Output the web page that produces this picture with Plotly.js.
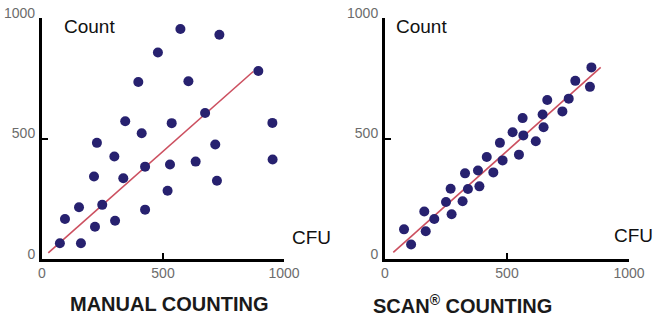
<!DOCTYPE html>
<html>
<head>
<meta charset="utf-8">
<script src="https://cdn.plot.ly/plotly-3.0.1.min.js"></script>
<style>
html,body{margin:0;padding:0;background:#fff;}
#chart{width:658px;height:317px;}
</style>
</head>
<body>
<div id="chart"></div>
<script>
// Manual counting: CFU (x) vs Count (y)
const manualCFU   = [74, 95, 153, 161, 219, 215, 227, 249, 302, 299, 336, 344, 398, 412, 426, 426, 479, 519, 529, 536, 572, 605, 635, 674, 716, 723, 733, 894, 952, 953];
const manualCount = [64, 165, 214, 64, 133, 342, 482, 224, 158, 425, 335, 572, 735, 522, 383, 204, 858, 283, 392, 564, 956, 738, 404, 606, 475, 324, 932, 781, 565, 413];
const manualFitX = [26, 873];
const manualFitY = [24, 779];

// SCAN counting: CFU (x) vs Count (y)
const scanCFU   = [78, 107, 161, 167, 202, 250, 269, 273, 318, 328, 340, 381, 387, 417, 444, 471, 482, 523, 549, 564, 567, 618, 646, 650, 665, 727, 753, 780, 840, 846];
const scanCount = [122, 59, 196, 114, 165, 236, 291, 185, 239, 355, 290, 367, 301, 423, 359, 482, 409, 526, 433, 585, 513, 489, 600, 547, 660, 613, 666, 740, 715, 796];
const scanFitX = [34, 884];
const scanFitY = [26, 796];

const tickVals = [0, 500, 1000];
const tickText = ['0', '500', '1000'];
const panelTitles = ['MANUAL COUNTING', 'SCAN<sup>®</sup> COUNTING'];
const yAxisLabel = 'Count';
const xAxisLabel = 'CFU';

const dotColor = '#27216f';
const lineColor = '#cc5060';

function fit(x, y, xa, ya) {
  return {x: x, y: y, xaxis: xa, yaxis: ya, mode: 'lines', type: 'scatter',
    line: {color: lineColor, width: 1.6}, hoverinfo: 'skip', cliponaxis: false};
}
function dots(x, y, xa, ya) {
  return {x: x, y: y, xaxis: xa, yaxis: ya, mode: 'markers', type: 'scatter',
    marker: {color: dotColor, size: 10}, cliponaxis: false};
}

const data = [
  fit(manualFitX, manualFitY, 'x', 'y'),
  dots(manualCFU, manualCount, 'x', 'y'),
  fit(scanFitX, scanFitY, 'x2', 'y2'),
  dots(scanCFU, scanCount, 'x2', 'y2')
];

const tickFont = {family: 'Liberation Sans, Arial, sans-serif', size: 14, color: '#6c6c6c'};
function xax(domain, anchor) {
  return {domain: domain, anchor: anchor, range: [0, 1000], showgrid: false, zeroline: false,
    showline: true, linecolor: '#000', linewidth: 3, ticks: 'inside', ticklen: 6, tickwidth: 2,
    tickcolor: '#000', tickvals: tickVals, ticktext: tickText, tickfont: tickFont, fixedrange: true,
    layer: 'above traces'};
}
function yax(domain, anchor) {
  return {domain: domain, anchor: anchor, range: [0, 1000], showgrid: false, zeroline: false,
    showline: true, linecolor: '#000', linewidth: 3, ticks: 'inside', ticklen: 6, tickwidth: 2,
    tickcolor: '#000', tickvals: tickVals, ticktext: tickText, tickfont: tickFont, fixedrange: true,
    ticklabelshift: -5, ticklabelstandoff: 1, layer: 'above traces'};
}

const yDom = [0.184, 0.942];
const labelFont = {family: 'Liberation Sans, Arial, sans-serif', size: 19, color: '#111'};
const titleFont = {family: 'Liberation Sans, Arial, sans-serif', size: 20, color: '#1a1a1a', weight: 'bold'};

const layout = {
  width: 658, height: 317,
  margin: {l: 0, r: 0, t: 0, b: 0},
  paper_bgcolor: '#fff', plot_bgcolor: '#fff',
  showlegend: false,
  xaxis: xax([0.0638, 0.4316], 'y'),
  yaxis: yax(yDom, 'x'),
  xaxis2: xax([0.5851, 0.9559], 'y2'),
  yaxis2: yax(yDom, 'x2'),
  annotations: [
    {text: yAxisLabel, xref: 'paper', yref: 'paper', x: 89.5/658, y: 1 - 26/317, xanchor: 'center', yanchor: 'middle', showarrow: false, font: labelFont},
    {text: yAxisLabel, xref: 'paper', yref: 'paper', x: 421/658, y: 1 - 26/317, xanchor: 'center', yanchor: 'middle', showarrow: false, font: labelFont},
    {text: xAxisLabel, xref: 'paper', yref: 'paper', x: 311/658, y: 1 - 237/317, xanchor: 'center', yanchor: 'middle', showarrow: false, font: labelFont},
    {text: xAxisLabel, xref: 'paper', yref: 'paper', x: 633/658, y: 1 - 235/317, xanchor: 'center', yanchor: 'middle', showarrow: false, font: labelFont},
    {text: panelTitles[0], xref: 'paper', yref: 'paper', x: 169.5/658, y: 1 - 304/317, xanchor: 'center', yanchor: 'middle', showarrow: false, font: titleFont},
    {text: panelTitles[1], xref: 'paper', yref: 'paper', x: 462/658, y: 1 - 304/317, xanchor: 'center', yanchor: 'middle', showarrow: false, font: titleFont}
  ]
};

Plotly.newPlot('chart', data, layout, {displayModeBar: false, staticPlot: true});
</script>
</body>
</html>
